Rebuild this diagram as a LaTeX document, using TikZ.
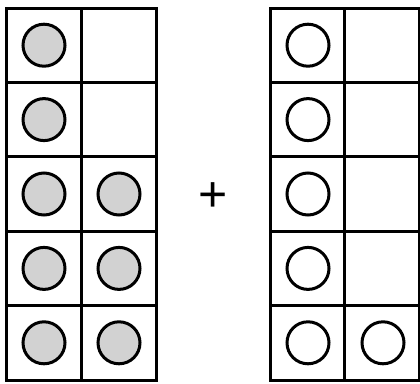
\documentclass[tikz,border=0pt]{standalone}
\usepackage{fontspec}
\setmainfont{Liberation Sans}
\usetikzlibrary{positioning}

\begin{document}
\begin{tikzpicture}[x=1pt,y=-1pt,
    frame/.style={draw=black,line width=3pt},
    counter/.style={circle,draw=black,line width=3pt,minimum size=42pt,inner sep=0pt},
    full/.style={counter,fill=gray!35},
    empty/.style={counter,fill=white}]
  \useasboundingbox (0,0) rectangle (420,383);

  % the two ten frames
  \foreach \x in {6.5,270} {
    \draw[frame] (\x,8) rectangle ++(149.5,372);
    \draw[frame] (\x+74.75,8) -- ++(0,372);
    \foreach \r in {1,...,4}
      \draw[frame] (\x,{8+74.4*\r}) -- ++(149.5,0);
  }

  % left counters
  \foreach \r in {1,...,5}
    \node[full] (la\r) at (44,{8+74.4*(\r-.5)}) {};
  \foreach \r in {3,4,5}
    \node[full] (lb\r) at (119,{8+74.4*(\r-.5)}) {};

  % right counters
  \foreach \r in {1,...,5}
    \node[empty] (ra\r) at (308,{8+74.4*(\r-.5)}) {};
  \node[empty] (rb5) at (383,{8+74.4*4.5}) {};

  \node[inner sep=0pt] (plus) at (213,197) {\fontsize{50}{50}\selectfont +};
\end{tikzpicture}
\end{document}
